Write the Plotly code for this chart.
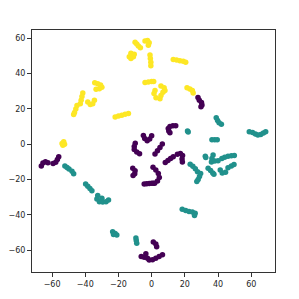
import plotly.graph_objects as go

# class 0 (purple)
purple_x = [27.9, 28.7, 30.0, 30.3, 29.7,
            -5.0, -4.2, -2.7, -1.2, 0.0,
            -9.9, -10.5, -10.5, -9.0, -7.3,
            -11.4, -10.0, -10.2, -11.2,
            -4.5, -3.0, -1.5, 0.0, 1.0,
            0.8, 2.5, 4.0, 4.6, 3.5, 1.8,
            6.4, 5.0, 3.5, 2.0,
            14.5, 12.8, 11.0, 10.0, 10.3, 11.0,
            8.2, 9.8, 11.4, 13.0,
            15.5, 17.3, 18.6, 18.3, 18.5,
            -6.3, -4.5, -3.5, -2.5, -1.5, 0.5, 2.5, 4.5, 6.5,
            1.0, 2.5, 3.0,
            -66.5, -65.5, -64.0, -62.5,
            -56.0, -56.8, -57.8, -59.4]
purple_y = [26.5, 25.0, 23.7, 22.3, 21.3,
            5.0, 3.3, 2.0, 3.0, 4.8,
            0.6, -1.2, -3.0, -4.3, -5.3,
            -13.6, -15.0, -16.7, -17.6,
            -22.5, -22.3, -22.2, -22.0, -22.0,
            -13.0, -14.5, -16.5, -18.8, -20.8, -22.0,
            0.2, -1.8, -3.7, -5.5,
            10.5, 10.5, 10.0, 9.0, 7.5, 6.5,
            -10.3, -9.2, -8.0, -7.0,
            -5.7, -5.2, -6.3, -8.3, -10.0,
            -63.5, -64.0, -62.0, -64.5, -65.5, -65.3, -64.5, -63.5, -62.5,
            -55.3, -56.5, -58.0,
            -12.3, -10.6, -9.9, -10.4,
            -7.0, -8.6, -10.1, -10.9]

# class 1 (teal)
teal_x = [-52.3, -51.0, -49.8, -48.0, -47.0,
          -39.8, -38.5, -37.2, -36.0,
          -32.5, -33.0, -31.5, -29.5, -27.5, -26.0, -30.0,
          -23.5, -22.0, -21.0, -23.0,
          -9.5, -9.3, -9.0,
          18.4, 20.5, 22.5, 24.5, 26.2, 25.8,
          38.9, 39.7, 40.6, 42.0,
          21.6, 22.0,
          58.8, 60.8, 62.5, 64.0, 65.7, 67.3, 68.7,
          36.3, 38.0, 39.5,
          32.3, 32.6,
          37.0, 36.3, 36.0, 38.0, 40.0,
          42.3, 44.0, 46.0, 48.0, 49.8,
          23.2, 24.8, 26.3, 27.6,
          29.5, 28.8, 28.0, 27.2,
          34.0, 35.5, 36.8, 37.5,
          41.3, 42.5, 44.5,
          46.0, 48.0, 49.6]
teal_y = [-12.3, -13.2, -14.0, -15.2, -16.7,
          -22.5, -23.8, -25.0, -26.3,
          -29.0, -31.0, -32.5, -32.7, -32.5, -31.5, -30.5,
          -49.5, -50.5, -51.3, -51.0,
          -53.0, -54.5, -56.0,
          -36.8, -37.5, -38.0, -38.4, -39.0, -40.3,
          15.0, 13.5, 12.2, 11.3,
          7.5, 7.0,
          7.1, 6.7, 5.8, 5.3, 5.6, 6.4, 7.1,
          2.5, 2.5, 2.5,
          -6.8, -7.5,
          -6.0, -8.0, -10.0, -9.5, -9.3,
          -8.0, -7.3, -6.8, -6.5, -6.3,
          -11.3, -12.5, -13.8, -15.5,
          -16.5, -18.3, -20.0, -21.0,
          -13.5, -14.8, -16.3, -17.0,
          -14.5, -16.3, -15.8,
          -13.3, -12.3, -11.5]

# class 2 (yellow)
yellow_x = [-10.0, -9.0, -8.0, -6.8,
            -4.0, -2.5, -1.5, -2.0,
            -12.5, -13.5, -12.5, -11.0, -10.5,
            -1.0, -0.8, -0.5, -0.5,
            -4.0, -2.0, 0.0, 1.2,
            13.0, 15.0, 17.0, 19.0, 20.5,
            5.6, 7.5, 8.0, 6.8, 2.0, 1.4, 2.6, 5.0, 5.6,
            21.3, 23.0, 24.5, 25.0,
            -34.3, -32.5, -30.8, -30.0, -31.5, -33.5,
            -41.5, -42.0, -42.5, -43.0,
            -38.5, -37.0, -35.5, -34.5,
            -45.0, -45.7, -46.5, -47.0,
            -22.0, -20.0, -18.0, -16.0, -14.0,
            -54.0, -53.0, -52.5, -53.5]
yellow_y = [57.8, 56.8, 55.7, 54.6,
            58.5, 58.8, 57.5, 56.0,
            51.5, 49.5, 48.5, 49.5, 51.0,
            50.5, 48.5, 46.5, 44.5,
            35.0, 35.3, 35.5, 35.5,
            48.0, 47.7, 47.3, 47.0, 46.5,
            33.0, 32.0, 30.5, 29.5, 30.4, 28.7, 26.4, 25.8, 27.6,
            32.0, 31.3, 30.5, 29.0,
            34.9, 34.3, 33.5, 32.3, 31.5, 31.1,
            29.0, 27.0, 25.0, 23.0,
            24.0, 22.5, 23.0, 25.0,
            22.0, 20.0, 18.0, 16.8,
            15.5, 16.0, 16.5, 17.0, 17.5,
            0.5, 1.5, 0.0, -0.5]

tick_vals = [-60, -40, -20, 0, 20, 40, 60]

classes = [(purple_x, purple_y, "#440154"),
           (teal_x, teal_y, "#21918c"),
           (yellow_x, yellow_y, "#fde725")]

fig = go.Figure()
for xs, ys, c in classes:
    fig.add_trace(go.Scatter(x=xs, y=ys, mode="markers",
                             marker=dict(color=c, size=5.5, line=dict(width=0)),
                             showlegend=False, hoverinfo="skip"))

axis_common = dict(showgrid=False, zeroline=False, showline=True, linecolor="#333333",
                   linewidth=1, mirror=True, ticks="outside", ticklen=4, tickwidth=1,
                   automargin=False, tickvals=tick_vals,
                   tickcolor="#333333", tickfont=dict(family="DejaVu Sans", size=8, color="#262626"))

fig.update_layout(
    width=299, height=299,
    margin=dict(l=32, r=24, t=30, b=27),
    paper_bgcolor="white", plot_bgcolor="white",
    xaxis=dict(range=[-72.1, 74.3], **axis_common),
    yaxis=dict(range=[-72.3, 64.7], **axis_common),
)

fig.write_html("out.html", config={"displayModeBar": False},
               post_script="document.body.style.margin='0px';")
